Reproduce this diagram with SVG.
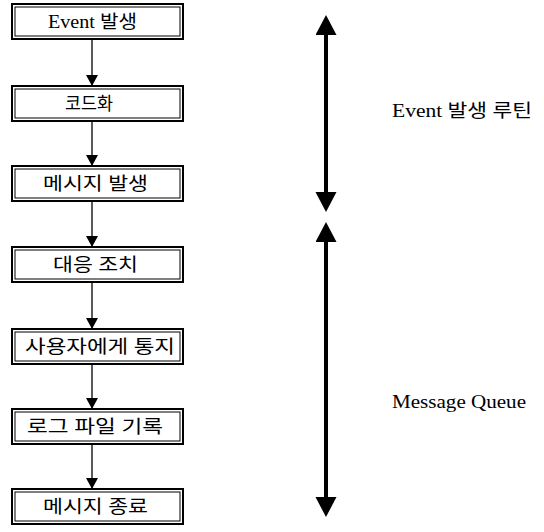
<svg xmlns="http://www.w3.org/2000/svg" width="544" height="532" viewBox="0 0 544 532">
<style>
.outer{fill:#fff;stroke:#000;stroke-width:2}
.inner{fill:none;stroke:#000;stroke-width:1}
.lbl{font-family:"Liberation Serif","Noto Sans CJK KR",serif;font-size:18px;fill:#000;text-anchor:middle}
.side{font-family:"Liberation Serif","Noto Sans CJK KR",serif;font-size:18px;fill:#000}
.conn{stroke:#000;stroke-width:1.3;fill:none}
.thick{stroke:#000;stroke-width:4;fill:none}
</style>
<defs>
<marker id="ah" markerUnits="userSpaceOnUse" markerWidth="12" markerHeight="13" refX="11" refY="6" orient="auto">
<path d="M0,0 L11,6 L0,12 Z" fill="#000"/>
</marker>
<marker id="bh" markerUnits="userSpaceOnUse" markerWidth="22" markerHeight="22" refX="1" refY="10.5" orient="auto-start-reverse">
<path d="M0,0 L20,10.5 L0,21 Z" fill="#000"/>
</marker>
</defs>
<g id="n1"><rect class="outer" x="12" y="4" width="171" height="35"/><rect class="inner" x="15" y="7" width="165" height="29"/><text class="lbl" x="92.5" y="28" textLength="89" lengthAdjust="spacingAndGlyphs">Event 발생</text></g>
<g id="n2"><rect class="outer" x="12" y="86" width="171" height="35"/><rect class="inner" x="15" y="89" width="165" height="29"/><text class="lbl" x="89" y="110" textLength="48" lengthAdjust="spacingAndGlyphs">코드화</text></g>
<g id="n3"><rect class="outer" x="12" y="166" width="171" height="35"/><rect class="inner" x="15" y="169" width="165" height="29"/><text class="lbl" x="95.5" y="190" textLength="105" lengthAdjust="spacingAndGlyphs">메시지 발생</text></g>
<g id="n4"><rect class="outer" x="12" y="247" width="171" height="35"/><rect class="inner" x="15" y="250" width="165" height="29"/><text class="lbl" x="95.5" y="271" textLength="85" lengthAdjust="spacingAndGlyphs">대응 조치</text></g>
<g id="n5"><rect class="outer" x="12" y="329" width="171" height="35"/><rect class="inner" x="15" y="332" width="165" height="29"/><text class="lbl" x="100" y="353" textLength="150" lengthAdjust="spacingAndGlyphs">사용자에게 통지</text></g>
<g id="n6"><rect class="outer" x="12" y="409" width="171" height="35"/><rect class="inner" x="15" y="412" width="165" height="29"/><text class="lbl" x="95" y="433" textLength="136" lengthAdjust="spacingAndGlyphs">로그 파일 기록</text></g>
<g id="n7"><rect class="outer" x="12" y="489" width="171" height="35"/><rect class="inner" x="15" y="492" width="165" height="29"/><text class="lbl" x="95.5" y="513" textLength="105" lengthAdjust="spacingAndGlyphs">메시지 종료</text></g>
<g id="connectors">
<line class="conn" x1="92" y1="40" x2="92" y2="86" marker-end="url(#ah)"/>
<line class="conn" x1="92" y1="122" x2="92" y2="166" marker-end="url(#ah)"/>
<line class="conn" x1="92" y1="202" x2="92" y2="247" marker-end="url(#ah)"/>
<line class="conn" x1="92" y1="283" x2="92" y2="329" marker-end="url(#ah)"/>
<line class="conn" x1="92" y1="365" x2="92" y2="409" marker-end="url(#ah)"/>
<line class="conn" x1="92" y1="445" x2="92" y2="489" marker-end="url(#ah)"/>
<line class="thick" x1="326" y1="34" x2="326" y2="193" marker-start="url(#bh)" marker-end="url(#bh)"/>
<line class="thick" x1="326" y1="241" x2="326" y2="498" marker-start="url(#bh)" marker-end="url(#bh)"/>
</g>
<g id="labels">
<text class="side" x="392" y="117" textLength="140" lengthAdjust="spacingAndGlyphs">Event 발생 루틴</text>
<text class="side" x="392" y="408" textLength="134" lengthAdjust="spacingAndGlyphs">Message Queue</text>
</g>
</svg>
